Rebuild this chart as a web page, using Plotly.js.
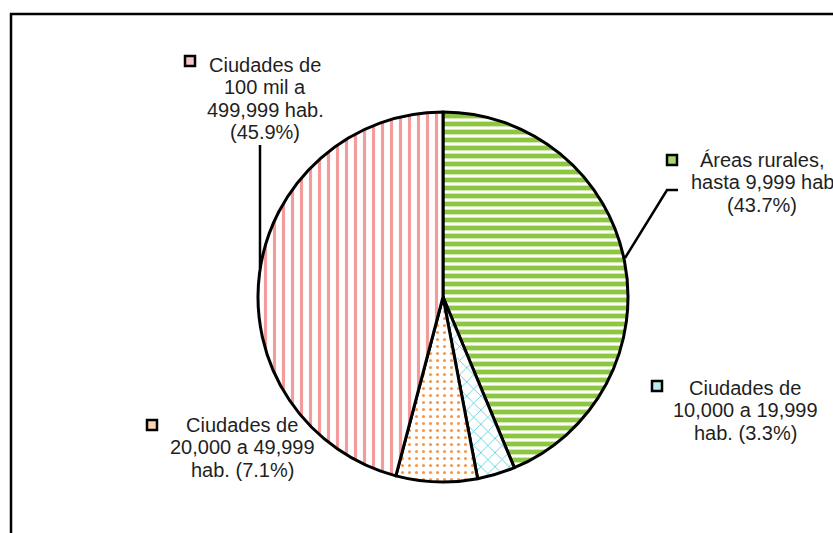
<!DOCTYPE html>
<html>
<head>
<meta charset="utf-8">
<script src="https://cdn.plot.ly/plotly-3.0.1.min.js"></script>
<style>html,body{margin:0;padding:0;background:#fff;}#chart{width:833px;height:533px;}</style>
</head>
<body>
<div id="chart"></div>
<script>
// ---- data ----
const categories = ['Áreas rurales, hasta 9,999 hab', 'Ciudades de 10,000 a 19,999 hab.', 'Ciudades de 20,000 a 49,999 hab.', 'Ciudades de 100 mil a 499,999 hab.'];
const shares = [43.7, 3.3, 7.1, 45.9];
const labelLines = [
  ['Áreas rurales,', 'hasta 9,999 hab'],
  ['Ciudades de', '10,000 a 19,999', 'hab.'],
  ['Ciudades de', '20,000 a 49,999', 'hab.'],
  ['Ciudades de', '100 mil a', '499,999 hab.']
];

// ---- styles ----
const W = 833, H = 533;
const fg = ['#8DC63F', '#4BC6DA', '#F79646', '#F49C9C'];
const keyFill = ['#A9D46E', '#BDEAF2', '#FBD3B0', '#F8C4C4'];
const pShapes = ['-', 'x', '.', '|'];
const pSize = [8, 10, 7, 9];
const pSolid = [0.6, 0.15, 0.15, 0.35];
// label layout: [centerX, firstBaselineY, keyX, keyY]
const labelPos = [
  [762, 167, 667, 155],
  [745, 395, 652, 381],
  [242, 432, 147, 420],
  [265, 72, 185, 56]
];
const lineGap = 22.3;
const fontSize = 20;

function px(x){ return x / W; }
function py(y){ return 1 - y / H; }

// pie geometry: center (443,297), radius 185
const cx = 443, cy = 297, r = 185;

const trace = {
  type: 'pie',
  labels: categories,
  values: shares,
  sort: false,
  direction: 'clockwise',
  rotation: 0,
  textinfo: 'none',
  hoverinfo: 'skip',
  showlegend: false,
  domain: { x: [px(cx - r), px(cx + r)], y: [py(cy + r), py(cy - r)] },
  marker: {
    colors: fg,
    line: { color: '#000', width: 3 },
    pattern: { shape: pShapes, size: pSize, solidity: pSolid, bgcolor: 'white', fgcolor: fg, fillmode: 'replace' }
  }
};

const annotations = [];
const shapes = [];
categories.forEach((c, i) => {
  const lines = labelLines[i].slice();
  const pct = '(' + shares[i].toFixed(1) + '%)';
  if (i === 1 || i === 2) lines[lines.length - 1] += ' ' + pct; else lines.push(pct);
  const [lx, ly, kx, ky] = labelPos[i];
  lines.forEach((t, j) => {
    annotations.push({
      text: t, showarrow: false, xref: 'paper', yref: 'paper',
      x: px(lx), y: py(ly + j * lineGap - 7), xanchor: 'center', yanchor: 'middle',
      font: { family: 'Liberation Sans, Arial, sans-serif', size: fontSize, color: '#1f1f1f' }
    });
  });
  shapes.push({
    type: 'rect', xref: 'paper', yref: 'paper',
    x0: px(kx), x1: px(kx + 10), y0: py(ky + 10), y1: py(ky),
    fillcolor: keyFill[i], line: { color: '#000', width: 2.5 }
  });
});

// leader lines
shapes.push({ type: 'path', xref: 'paper', yref: 'paper',
  path: `M ${px(260)} ${py(145)} L ${px(260)} ${py(268)}`, line: { color: '#000', width: 2.5 } });
shapes.push({ type: 'path', xref: 'paper', yref: 'paper',
  path: `M ${px(625)} ${py(258)} L ${px(667)} ${py(190)} L ${px(678)} ${py(190)}`, line: { color: '#000', width: 2.5 } });
// outer frame
shapes.push({ type: 'rect', xref: 'paper', yref: 'paper',
  x0: px(11), x1: px(845), y0: py(545), y1: py(14), line: { color: '#000', width: 2.5 }, fillcolor: 'rgba(0,0,0,0)' });

const layout = {
  width: W, height: H,
  margin: { l: 0, r: 0, t: 0, b: 0 },
  paper_bgcolor: '#fff', plot_bgcolor: '#fff',
  annotations: annotations,
  shapes: shapes
};

Plotly.newPlot('chart', [trace], layout, { displayModeBar: false, staticPlot: true });
</script>
</body>
</html>
